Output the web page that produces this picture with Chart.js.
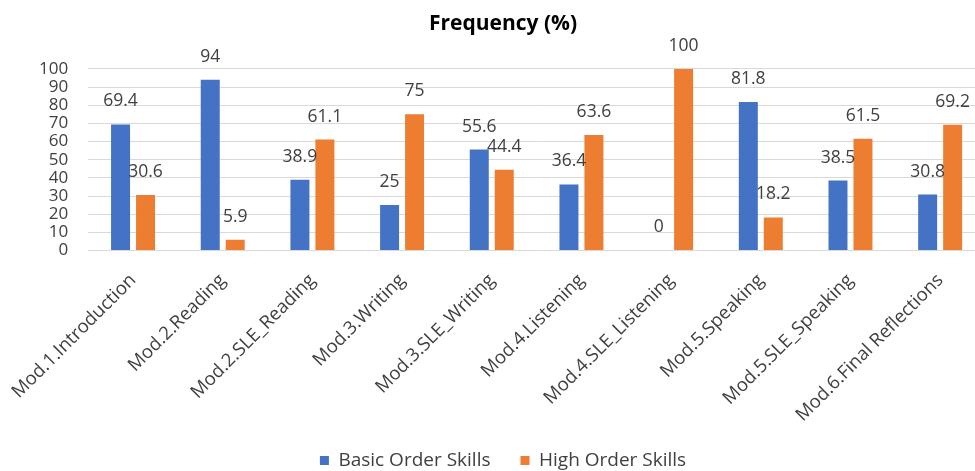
<!DOCTYPE html>
<html>
<head>
<meta charset="utf-8">
<script src="https://cdn.jsdelivr.net/npm/chart.js@4"></script>
<style>
  html, body { margin: 0; padding: 0; background: #fff; overflow: hidden; }
  #wrap { width: 1000px; height: 480px; }
</style>
</head>
<body>
<div id="wrap"><canvas id="c" width="1000" height="480"></canvas></div>
<script>
const categories = [
  "Mod.1.Introduction", "Mod.2.Reading", "Mod.2.SLE_Reading", "Mod.3.Writing",
  "Mod.3.SLE_Writing", "Mod.4.Listening", "Mod.4.SLE_Listening", "Mod.5.Speaking",
  "Mod.5.SLE_Speaking", "Mod.6.Final Reflections"
];
const basicOrder = [69.4, 94, 38.9, 25, 55.6, 36.4, 0, 81.8, 38.5, 30.8];
const highOrder = [30.6, 5.9, 61.1, 75, 44.4, 63.6, 100, 18.2, 61.5, 69.2];
const yTicks = [0, 10, 20, 30, 40, 50, 60, 70, 80, 90, 100];
const seriesNames = ["Basic Order Skills", "High Order Skills"];
const chartTitle = "Frequency (%)";

const FONT = "'Open Sans', 'Noto Sans', sans-serif";
const TEXT = "#404040";

const valueLabels = {
  id: 'valueLabels',
  afterDatasetsDraw(chart) {
    const ctx = chart.ctx;
    ctx.save();
    ctx.font = "17.5px " + FONT;
    ctx.fillStyle = TEXT;
    ctx.textAlign = 'center';
    ctx.textBaseline = 'middle';
    chart.data.datasets.forEach((ds, di) => {
      const meta = chart.getDatasetMeta(di);
      meta.data.forEach((el, i) => {
        ctx.fillText(String(ds.data[i]), el.x, el.y - 23);
      });
    });
    ctx.restore();
  }
};

new Chart(document.getElementById('c'), {
  type: 'bar',
  data: {
    labels: categories,
    datasets: [
      { label: seriesNames[0], data: basicOrder, backgroundColor: '#4472C4',
        categoryPercentage: 0.557, barPercentage: 0.76 },
      { label: seriesNames[1], data: highOrder, backgroundColor: '#ED7D31',
        categoryPercentage: 0.557, barPercentage: 0.76 }
    ]
  },
  options: {
    responsive: false,
    animation: false,
    layout: { padding: { left: 21, right: 15, top: 0, bottom: 0 } },
    plugins: {
      title: {
        display: true, text: chartTitle, color: '#000',
        font: { family: FONT, size: 21, weight: 'bold' },
        padding: { top: 11, bottom: 32.7 }
      },
      legend: {
        position: 'bottom',
        labels: {
          boxWidth: 9, boxHeight: 9, color: TEXT, padding: 30,
          font: { family: FONT, size: 19 }
        }
      },
      tooltip: { enabled: false }
    },
    scales: {
      x: {
        grid: { display: false },
        border: { display: false },
        ticks: {
          color: TEXT, font: { family: FONT, size: 18.5 },
          minRotation: 45, maxRotation: 45, autoSkip: false, padding: 11
        },
        afterFit(scale) { scale.height = 170.5; }
      },
      y: {
        min: 0, max: 100,
        grid: { color: '#d9d9d9', drawTicks: false, lineWidth: 1 },
        border: { display: false },
        afterBuildTicks(scale) { scale.ticks = yTicks.map(v => ({ value: v })); },
        ticks: { color: TEXT, font: { family: FONT, size: 17 }, padding: 20,
                 autoSkip: false, stepSize: 10 },
        afterFit(scale) { scale.width = 66; }
      }
    }
  },
  plugins: [valueLabels]
});
</script>
</body>
</html>
